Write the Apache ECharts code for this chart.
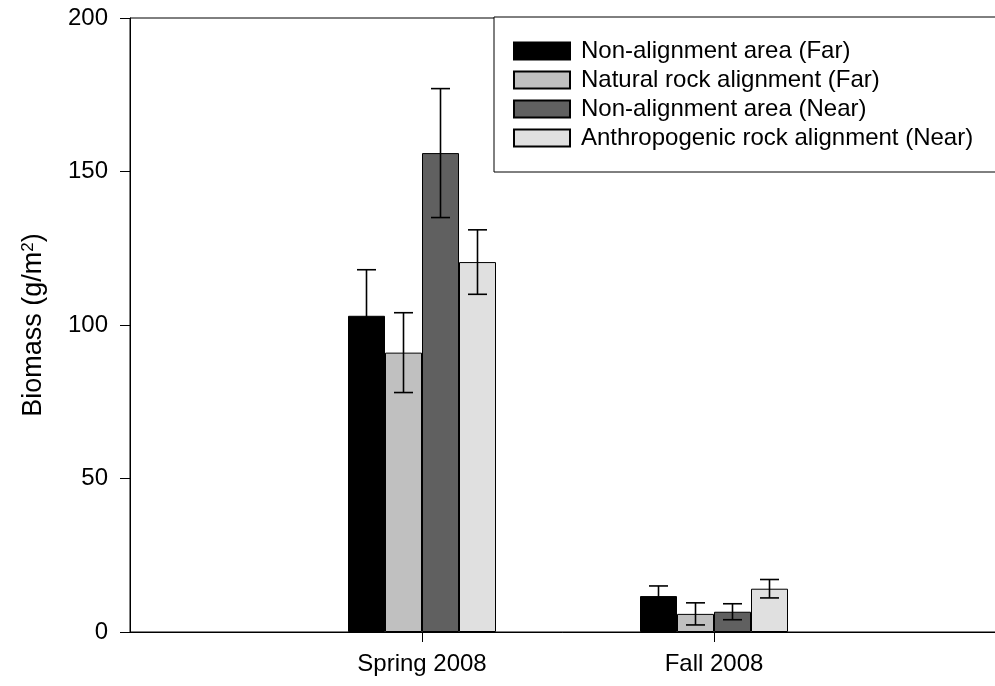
<!DOCTYPE html>
<html>
<head>
<meta charset="utf-8">
<script src="https://cdn.jsdelivr.net/npm/echarts@6/dist/echarts.min.js"></script>
<style>html,body{margin:0;padding:0;background:#fff;}#c{width:995px;height:686px;}</style>
</head>
<body>
<div id="c"></div>
<script>
// categories (empty ends pad the axis)
var categories = ['', 'Spring 2008', 'Fall 2008', ''];
var seriesNames = ['Non-alignment area (Far)', 'Natural rock alignment (Far)', 'Non-alignment area (Near)', 'Anthropogenic rock alignment (Near)'];
var nonAlignFar = [null, 103, 11.7, null];
var naturalFar = [null, 91, 5.9, null];
var nonAlignNear = [null, 156, 6.6, null];
var anthroNear = [null, 120.5, 14.1, null];
var errNonAlignFar = [null, 15, 3.3, null];
var errNaturalFar = [null, 13, 3.6, null];
var errNonAlignNear = [null, 21, 2.6, null];
var errAnthroNear = [null, 10.5, 3, null];
var yTicks = [0, 50, 100, 150, 200];

var values = [nonAlignFar, naturalFar, nonAlignNear, anthroNear];
var errors = [errNonAlignFar, errNaturalFar, errNonAlignNear, errAnthroNear];
var colors = ['#000000', '#c0c0c0', '#606060', '#e0e0e0'];
var BAR_W = 37;
var FONT = 'Liberation Sans, Arial, sans-serif';

var chart = echarts.init(document.getElementById('c'), null, {renderer: 'canvas'});

var series = [];
values.forEach(function (vals, i) {
  series.push({
    name: seriesNames[i],
    type: 'bar',
    data: vals,
    barWidth: BAR_W,
    barGap: '0%',
    itemStyle: {color: colors[i], borderColor: '#000', borderWidth: 1},
    emphasis: {disabled: true},
    z: 2
  });
});
values.forEach(function (vals, i) {
  var data = [];
  vals.forEach(function (v, k) {
    if (v != null) data.push([k, v, errors[i][k]]);
  });
  series.push({
    type: 'custom',
    silent: true,
    z: 5,
    data: data,
    renderItem: function (params, api) {
      var k = api.value(0), v = api.value(1), e = api.value(2);
      var offset = (i - 1.5) * BAR_W;
      var top = api.coord([k, v + e]);
      var bot = api.coord([k, v - e]);
      var x = top[0] + offset;
      var cap = 9.5;
      var st = {stroke: '#000', lineWidth: 1.6};
      return {
        type: 'group',
        children: [
          {type: 'line', shape: {x1: x, y1: top[1], x2: x, y2: bot[1]}, style: st},
          {type: 'line', shape: {x1: x - cap, y1: top[1], x2: x + cap, y2: top[1]}, style: st},
          {type: 'line', shape: {x1: x - cap, y1: bot[1], x2: x + cap, y2: bot[1]}, style: st}
        ]
      };
    }
  });
});

chart.setOption({
  animation: false,
  backgroundColor: '#fff',
  textStyle: {fontFamily: FONT},
  grid: {left: 130, width: 876, top: 18, bottom: 54, show: true, borderColor: '#000', borderWidth: 1,
    backgroundColor: 'transparent', outerBoundsMode: 'none', containLabel: false},
  legend: {
    data: seriesNames,
    orient: 'vertical',
    left: 494,
    top: 17,
    padding: [22, 40, 22, 19],
    icon: 'rect',
    itemWidth: 56,
    itemHeight: 17,
    itemGap: 5,
    borderColor: '#000',
    borderWidth: 1,
    backgroundColor: '#fff',
    selectedMode: false,
    textStyle: {fontSize: 24, color: '#000', fontFamily: FONT, padding: [0, 0, 0, 6]}
  },
  xAxis: {
    type: 'category',
    data: categories,
    boundaryGap: false,
    axisLine: {lineStyle: {color: '#000', width: 1}},
    axisTick: {show: true, length: 10, inside: false, lineStyle: {color: '#000'},
      interval: function (idx, val) { return val !== ''; }},
    axisLabel: {fontSize: 24, color: '#000', margin: 20, fontFamily: FONT,
      interval: function (idx, val) { return val !== ''; }},
    splitLine: {show: false}
  },
  yAxis: {
    type: 'value',
    min: yTicks[0],
    max: yTicks[yTicks.length - 1],
    interval: 50,
    name: '{a|Biomass (g/m}{b|2}{a|)}',
    nameLocation: 'middle',
    nameGap: 83,
    nameTextStyle: {
      color: '#000',
      fontFamily: FONT,
      rich: {
        a: {fontSize: 27, color: '#000', fontFamily: FONT},
        b: {fontSize: 17, color: '#000', fontFamily: FONT, verticalAlign: 'top', padding: [0, 0, 10, 0]}
      }
    },
    axisLine: {show: true, lineStyle: {color: '#000', width: 1}},
    axisTick: {show: true, length: 10, inside: false, lineStyle: {color: '#000'}},
    axisLabel: {fontSize: 24, color: '#000', margin: 22, fontFamily: FONT},
    splitLine: {show: false}
  },
  series: series
});
</script>
</body>
</html>
